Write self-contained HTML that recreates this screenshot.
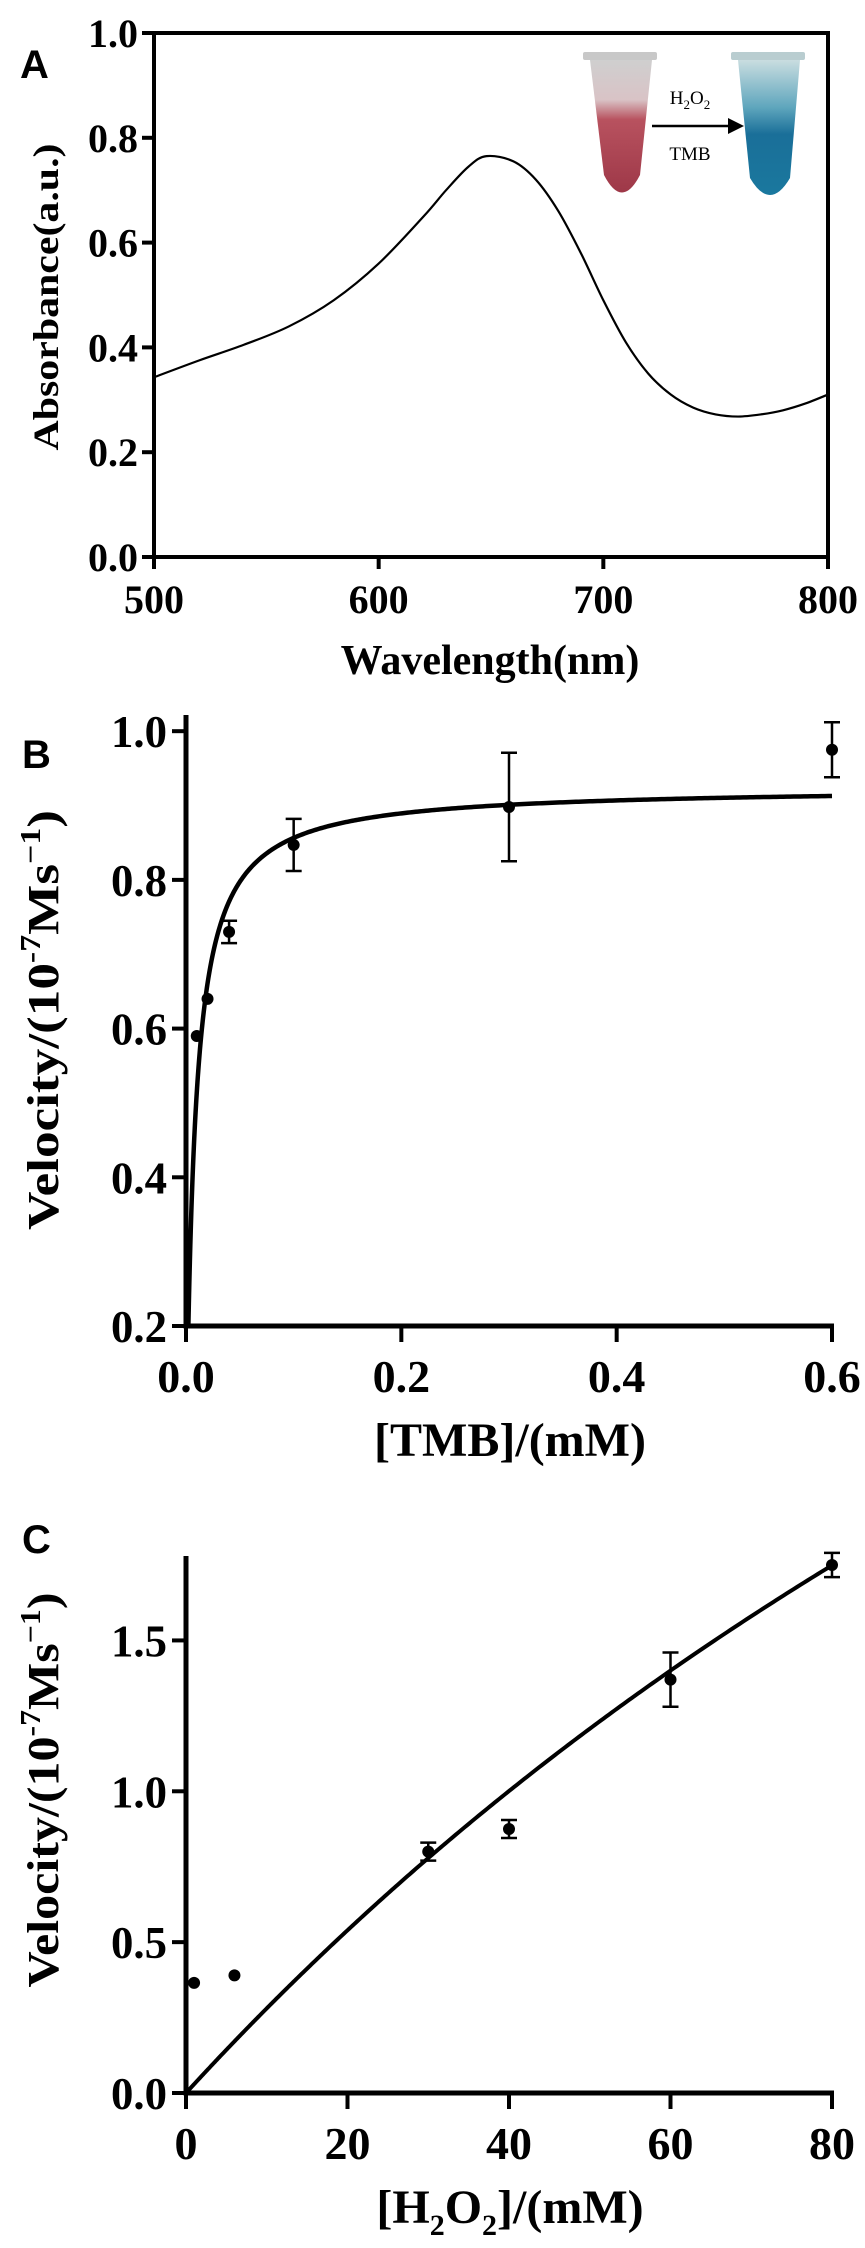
<!DOCTYPE html>
<html><head><meta charset="utf-8"><style>
html,body{margin:0;padding:0;background:#fff;}
svg{display:block;}
text{font-family:"Liberation Serif",serif;font-weight:bold;fill:#000;}
.lbl{font-family:"Liberation Sans",sans-serif;}
</style></head><body>
<svg id="fig" width="865" height="2248" viewBox="0 0 865 2248" xmlns="http://www.w3.org/2000/svg">
<defs>
<linearGradient id="redTube" x1="0" y1="0" x2="0" y2="1">
<stop offset="0" stop-color="#cfcfcf"/><stop offset="0.3" stop-color="#d9c3c6"/><stop offset="0.45" stop-color="#b8525f"/><stop offset="1" stop-color="#9e3848"/></linearGradient>
<linearGradient id="blueTube" x1="0" y1="0" x2="0" y2="1">
<stop offset="0" stop-color="#c9dde0"/><stop offset="0.35" stop-color="#5fa6bd"/><stop offset="0.55" stop-color="#1a6f99"/><stop offset="1" stop-color="#1a789e"/></linearGradient>
</defs>
<g id="panelA"></g>
<g id="panelB"></g>
<g id="panelC"></g>
</svg>
<script>
// Panel A data
const aWavelength=[500,520,540,560,580,600,620,630,640,648,660,670,680,690,700,710,720,730,740,750,760,770,780,790,800];
const aAbsorbance=[0.343,0.375,0.405,0.44,0.49,0.56,0.65,0.70,0.745,0.765,0.755,0.72,0.66,0.58,0.49,0.41,0.35,0.31,0.285,0.272,0.268,0.272,0.28,0.293,0.31];
const aXTicks=[500,600,700,800];
const aYTicks=[0.0,0.2,0.4,0.6,0.8,1.0];
// Panel B data
const bTMB=[0.01,0.02,0.04,0.1,0.3,0.6];
const bVelocity=[0.59,0.64,0.73,0.847,0.898,0.975];
const bError=[0,0,0.015,0.035,0.073,0.037];
const bFit=[0.925,0.008]; // Vmax, Km
const bXTicks=[0.0,0.2,0.4,0.6];
const bYTicks=[0.2,0.4,0.6,0.8,1.0];
// Panel C data
const cH2O2=[1,6,30,40,60,80];
const cVelocity=[0.365,0.39,0.80,0.875,1.37,1.75];
const cError=[0,0,0.03,0.03,0.09,0.04];
const cFit=[6.93,237]; // Vmax, Km
const cXTicks=[0,20,40,60,80];
const cYTicks=[0.0,0.5,1.0,1.5];

const NS="http://www.w3.org/2000/svg";
function mk(parent,tag,attrs,txt){const e=document.createElementNS(NS,tag);for(const k in attrs)e.setAttribute(k,attrs[k]);if(txt!==undefined)e.textContent=txt;parent.appendChild(e);return e;}
function lin(d0,d1,r0,r1){return v=>r0+(v-d0)/(d1-d0)*(r1-r0);}

// ---------- Panel A ----------
(function(){
const g=document.getElementById('panelA');
const x=lin(500,800,154,828), y=lin(0,1,557,33);
let e=mk(g,'text',{x:20,y:78,'font-size':40,class:'lbl'},'A');


e=mk(g,'rect',{x:154,y:33,width:674,height:524,fill:'none',stroke:'#000','stroke-width':4});


aYTicks.forEach(t=>{
 const tk=mk(g,'line',{x1:142,x2:154,y1:y(t),y2:y(t),stroke:'#000','stroke-width':4});
 
 
 const tl=mk(g,'text',{x:138,y:y(t)+14,'font-size':40,'text-anchor':'end'},t.toFixed(1));
 
 
});
aXTicks.forEach(t=>{
 const tk=mk(g,'line',{x1:x(t),x2:x(t),y1:557,y2:569,stroke:'#000','stroke-width':4});
 
 
 const tl=mk(g,'text',{x:x(t),y:613,'font-size':40,'text-anchor':'middle'},t);
 
 
});
e=mk(g,'text',{x:490,y:674,'font-size':42,'text-anchor':'middle'},'Wavelength(nm)');


e=mk(g,'text',{x:0,y:0,'font-size':36,'text-anchor':'middle',transform:'translate(58,297) rotate(-90)',textLength:307,lengthAdjust:'spacingAndGlyphs'},'Absorbance(a.u.)');


let d=aWavelength.map((w,i)=>[x(w),y(aAbsorbance[i])]);
let p='M'+d[0][0]+','+d[0][1];
for(let i=0;i<d.length-1;i++){const p0=d[Math.max(0,i-1)],p1=d[i],p2=d[i+1],p3=d[Math.min(d.length-1,i+2)];
 p+=' C'+(p1[0]+(p2[0]-p0[0])/6)+','+(p1[1]+(p2[1]-p0[1])/6)+' '+(p2[0]-(p3[0]-p1[0])/6)+','+(p2[1]-(p3[1]-p1[1])/6)+' '+p2[0]+','+p2[1];}
e=mk(g,'path',{d:p,fill:'none',stroke:'#000','stroke-width':2.2});


// inset
const ins=mk(g,'g',{});


mk(ins,'rect',{x:583,y:52,width:74,height:8,fill:'#c8c8c8',rx:2});
mk(ins,'path',{d:'M590,60 L652,60 L640,175 Q622,210 604,175 Z',fill:'url(#redTube)'});
mk(ins,'rect',{x:731,y:52,width:74,height:8,fill:'#b9cdd0',rx:2});
mk(ins,'path',{d:'M738,60 L800,60 L790,178 Q770,212 750,178 Z',fill:'url(#blueTube)'});
mk(ins,'line',{x1:652,x2:730,y1:126,y2:126,stroke:'#000','stroke-width':2.5});
mk(ins,'path',{d:'M728,118 L744,126 L728,134 Z',fill:'#000'});
e=mk(ins,'text',{x:690,y:104,'font-size':19,'text-anchor':'middle',style:'font-weight:normal'});
e.innerHTML='H<tspan font-size="13" dy="5">2</tspan><tspan dy="-5">O</tspan><tspan font-size="13" dy="5">2</tspan>';


e=mk(ins,'text',{x:690,y:160,'font-size':19,'text-anchor':'middle',style:'font-weight:normal'},'TMB');


})();

function kineticPanel(gid,cfg){
const g=document.getElementById(gid);
const x=lin(cfg.xd[0],cfg.xd[1],186,832), y=lin(cfg.yd[0],cfg.yd[1],cfg.yr[0],cfg.yr[1]);
let e=mk(g,'text',{x:22,y:cfg.labY,'font-size':40,class:'lbl'},cfg.lab);


e=mk(g,'line',{x1:186,x2:186,y1:cfg.axTop,y2:cfg.yr[0]+2.5,stroke:'#000','stroke-width':5});


e=mk(g,'line',{x1:183.5,x2:834,y1:cfg.yr[0],y2:cfg.yr[0],stroke:'#000','stroke-width':5});


cfg.yt.forEach(t=>{
 const tk=mk(g,'line',{x1:172,x2:186,y1:y(t),y2:y(t),stroke:'#000','stroke-width':4});
 
 
 const tl=mk(g,'text',{x:167,y:y(t)+16,'font-size':46,'text-anchor':'end',textLength:56,lengthAdjust:'spacingAndGlyphs'},t.toFixed(1));
 
 
});
cfg.xt.forEach(t=>{
 const tk=mk(g,'line',{x1:x(t),x2:x(t),y1:cfg.yr[0],y2:cfg.yr[0]+16,stroke:'#000','stroke-width':4});
 
 
 const tl=mk(g,'text',{x:x(t),y:cfg.yr[0]+66,'font-size':46,'text-anchor':'middle'},cfg.xfmt(t));
 
 
});
e=mk(g,'text',{x:510,y:cfg.yr[0]+130,'font-size':48,'text-anchor':'middle'});
e.innerHTML=cfg.xTitle;


e=mk(g,'text',{x:0,y:0,'font-size':44,'text-anchor':'middle',transform:'translate('+cfg.ytX+','+cfg.ytY+') rotate(-90)',textLength:cfg.ytLen,lengthAdjust:'spacingAndGlyphs'});
e.innerHTML='Velocity/(10<tspan font-size="28" dy="-18">-7</tspan><tspan dy="18">Ms</tspan><tspan font-size="28" dy="-18">−1</tspan><tspan dy="18">)</tspan>';


const Vm=cfg.fit[0],Km=cfg.fit[1];let pts=[];
for(let i=0;i<=400;i++){const xv=cfg.xd[1]*Math.pow(i/400,2.2);let v=Vm*xv/(Km+xv);if(v<cfg.yd[0])v=cfg.yd[0];pts.push(x(xv).toFixed(2)+','+y(v).toFixed(2));}
e=mk(g,'polyline',{points:pts.join(' '),fill:'none',stroke:'#000','stroke-width':cfg.lw});


cfg.xs.forEach((xv,i)=>{
 const v=cfg.ys[i],er=cfg.es[i];
 if(er>0){
  const eb=mk(g,'path',{d:'M'+x(xv)+','+y(v-er)+' V'+y(v+er)+' M'+(x(xv)-8)+','+y(v-er)+' h16 M'+(x(xv)-8)+','+y(v+er)+' h16',stroke:'#000','stroke-width':2.5,fill:'none'});
  
  
 }
 const c=mk(g,'circle',{cx:x(xv),cy:y(v),r:6,fill:'#000'});
 
 
});
}
kineticPanel('panelB',{xd:[0,0.6],yd:[0.2,1.05],yr:[1326,694],axTop:715,lab:'B',labName:'panel-b-label',labY:768,
 yt:bYTicks,xt:bXTicks,xfmt:t=>t.toFixed(1),xTitle:'[TMB]/(mM)',ytX:58,ytY:1020,ytLen:420,fit:bFit,lw:4.5,xs:bTMB,ys:bVelocity,es:bError});
kineticPanel('panelC',{xd:[0,80],yd:[0,1.75],yr:[2093,1565],axTop:1556,lab:'C',labName:'panel-c-label',labY:1553,
 yt:cYTicks,xt:cXTicks,xfmt:t=>String(t),xTitle:'[H<tspan font-size="30" dy="12">2</tspan><tspan dy="-12">O</tspan><tspan font-size="30" dy="12">2</tspan><tspan dy="-12">]/(mM)</tspan>',ytX:58,ytY:1790,ytLen:395,fit:cFit,lw:4,xs:cH2O2,ys:cVelocity,es:cError});
</script>
</body></html>
